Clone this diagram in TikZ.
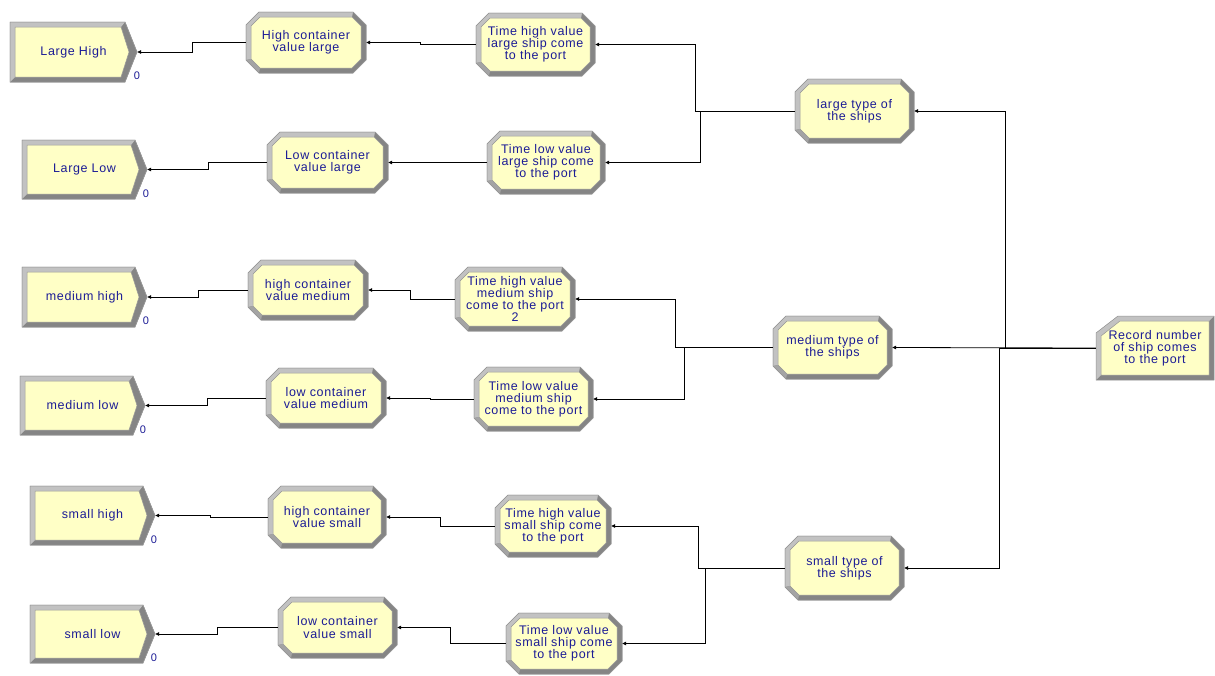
\documentclass[tikz,border=0pt]{standalone}
\usepackage{fontspec}
\setmainfont{Liberation Sans}
\newfontfamily\modfont{Liberation Sans}[LetterSpace=5]
\usetikzlibrary{arrows.meta}
\definecolor{bevlight}{HTML}{C2C2C2}
\definecolor{bevdark}{HTML}{858585}
\definecolor{bevmid}{HTML}{A4A4A4}
\definecolor{bevline}{HTML}{969696}
\definecolor{modfill}{HTML}{FFFFC6}
\definecolor{modtext}{HTML}{1C1C96}
\tikzset{
  modlabel/.style={draw=none, inner sep=0pt, align=center, text=modtext,
    font=\modfont\fontsize{12.5}{12.2}\selectfont},
  conn/.style={draw=black, line width=0.8pt, {Triangle[length=4pt,width=3.6pt]}-},
  cnt/.style={text=modtext, font=\modfont\fontsize{11}{11}\selectfont, inner sep=0pt},
  outl/.style={draw=bevline, line width=0.5pt},
}
% octagonal (Assign) module: name, x1, y1, x2, y2, text
\newcommand\octmod[6]{%
  \def\mxa{#2}\def\mya{#3}\def\mxb{#4}\def\myb{#5}%
  \fill[bevdark, outl] (\mxa+13,\mya) -- (\mxb-13,\mya) -- (\mxb,\mya+13) -- (\mxb,\myb-13) -- (\mxb-13,\myb) -- (\mxa+13,\myb) -- (\mxa,\myb-13) -- (\mxa,\mya+13) -- cycle;
  \fill[bevlight] (\mxa,\myb-13) -- (\mxa,\mya+13) -- (\mxa+13,\mya) -- (\mxb-13,\mya) -- (\mxb-14,\mya+5) -- (\mxa+14,\mya+5) -- (\mxa+5,\mya+14) -- (\mxa+5,\myb-14) -- cycle;
  \fill[bevmid] (\mxa,\myb-13) -- (\mxa+13,\myb) -- (\mxa+14,\myb-5) -- (\mxa+5,\myb-14) -- cycle;
  \draw[outl] (\mxa+13,\mya) -- (\mxb-13,\mya) -- (\mxb,\mya+13) -- (\mxb,\myb-13) -- (\mxb-13,\myb) -- (\mxa+13,\myb) -- (\mxa,\myb-13) -- (\mxa,\mya+13) -- cycle;
  \filldraw[fill=modfill, outl] (\mxa+14,\mya+5) -- (\mxb-14,\mya+5) -- (\mxb-5,\mya+14) -- (\mxb-5,\myb-14) -- (\mxb-14,\myb-5) -- (\mxa+14,\myb-5) -- (\mxa+5,\myb-14) -- (\mxa+5,\mya+14) -- cycle;
  \node[modlabel, minimum width={(#4-#2)*1pt}, minimum height={(#5-#3)*1pt}] (#1) at ({(#2+#4)/2},{(#3+#5)/2}) {#6};
}
% Create module: name, x1, y1, x2 (tip), y2, text
\newcommand\crmod[6]{%
  \def\mxa{#2}\def\mya{#3}\def\mxb{#4}\def\myb{#5}%
  \filldraw[fill=bevdark, outl] (\mxa,\mya) -- (\mxb-12,\mya) -- (\mxb,{(\mya+\myb)/2}) -- (\mxb-12,\myb) -- (\mxa,\myb) -- cycle;
  \fill[bevlight] (\mxa,\myb) -- (\mxa,\mya) -- (\mxb-12,\mya) -- (\mxb-16,\mya+5) -- (\mxa+5,\mya+5) -- (\mxa+5,\myb-5) -- cycle;
  \draw[outl] (\mxa,\mya) -- (\mxb-12,\mya) -- (\mxb,{(\mya+\myb)/2}) -- (\mxb-12,\myb) -- (\mxa,\myb) -- cycle;
  \filldraw[fill=modfill, outl] (\mxa+5,\mya+5) -- (\mxb-16,\mya+5) -- (\mxb-8,{(\mya+\myb)/2}) -- (\mxb-16,\myb-5) -- (\mxa+5,\myb-5) -- cycle;
  \node[modlabel, minimum width={(#4-#2)*1pt}, minimum height={(#5-#3)*1pt}] (#1) at ({(#2+#4)/2},{(#3+#5)/2}) {#6};
}
% Record module: name, x1, y1, x2, y2, text
\newcommand\recmod[6]{%
  \def\mxa{#2}\def\mya{#3}\def\mxb{#4}\def\myb{#5}%
  \fill[bevdark] (\mxa,\mya+17) -- (\mxa+22,\mya) -- (\mxb,\mya) -- (\mxb,\myb) -- (\mxa,\myb) -- cycle;
  \fill[bevlight] (\mxa,\myb) -- (\mxa,\mya+17) -- (\mxa+22,\mya) -- (\mxb,\mya) -- (\mxb-5,\mya+5) -- (\mxa+24,\mya+5) -- (\mxa+5,\mya+20) -- (\mxa+5,\myb-5) -- cycle;
  \draw[outl] (\mxa,\mya+17) -- (\mxa+22,\mya) -- (\mxb,\mya) -- (\mxb,\myb) -- (\mxa,\myb) -- cycle;
  \filldraw[fill=modfill, outl] (\mxa+5,\mya+20) -- (\mxa+24,\mya+5) -- (\mxb-5,\mya+5) -- (\mxb-5,\myb-5) -- (\mxa+5,\myb-5) -- cycle;
  \node[modlabel, minimum width={(#4-#2)*1pt}, minimum height={(#5-#3)*1pt}] (#1) at ({(#2+#4)/2},{(#3+#5)/2}) {#6};
}
\begin{document}
\begin{tikzpicture}[x=1pt, y=-1pt]
\useasboundingbox[fill=white] (0,0) rectangle (1215,675);

% Create modules
\crmod{CA}{10}{22}{137}{82}{Large High}
\crmod{CB}{22}{140}{147}{199}{Large Low}
\crmod{CC}{22}{267}{147}{327}{medium high}
\crmod{CD}{20}{376}{145}{435}{medium low}
\crmod{CE}{30}{486}{155}{545}{small high}
\crmod{CF}{30}{605}{155}{663}{small low}

\node[cnt] (nA) at (137,76) {0};
\node[cnt] (nB) at (146,194) {0};
\node[cnt] (nC) at (146,321) {0};
\node[cnt] (nD) at (143,430) {0};
\node[cnt] (nE) at (154,540) {0};
\node[cnt] (nF) at (154,658) {0};

% Assign modules (containers)
\octmod{A1}{246}{12}{366}{73}{High container\\value large}
\octmod{A2}{267}{132}{388}{193}{Low container\\value large}
\octmod{A3}{248}{260}{368}{320}{high container\\value medium}
\octmod{A4}{266}{368}{386}{428}{low container\\value medium}
\octmod{A5}{268}{486}{386}{548}{high container\\value small}
\octmod{A6}{278}{597}{397}{658}{low container\\value small}

% Assign modules (times)
\octmod{T1}{476}{13}{595}{76}{Time high value\\large ship come\\to the port}
\octmod{T2}{487}{131}{605}{194}{Time low value\\large ship come\\to the port}
\octmod{T3}{455}{267}{575}{331}{Time high value\\medium ship\\come to the port\\2}
\octmod{T4}{474}{367}{593}{431}{Time low value\\medium ship\\come to the port}
\octmod{T5}{495}{495}{611}{557}{Time high value\\small ship come\\to the port}
\octmod{T6}{506}{613}{622}{674}{Time low value\\small ship come\\to the port}

% Assign modules (types)
\octmod{L}{795}{79}{914}{143}{large type of\\the ships}
\octmod{M}{773}{316}{892}{379}{medium type of\\the ships}
\octmod{S}{785}{536}{904}{600}{small type of\\the ships}

% Record
\recmod{Rec}{1096}{316}{1214}{380}{Record number\\of ship comes\\to the port}

% Connectors
\draw[conn] (CA.east) -- ++(55,0) |- (A1.west);
\draw[conn] (A1.east) -- ++(54,0) |- (T1.west);
\draw[conn] (T1.east) -- ++(100,0) |- (L.west);
\draw[conn] (T2.east) -- ++(95,0) |- (L.west);
\draw[conn] (L.east) -- ++(91,0) |- (Rec.west);

\draw[conn] (CB.east) -- ++(61,0) |- (A2.west);
\draw[conn] (A2.east) -- ++(42,0) |- (T2.west);

\draw[conn] (CC.east) -- ++(51,0) |- (A3.west);
\draw[conn] (A3.east) -- ++(42,0) |- (T3.west);
\draw[conn] (T3.east) -- ++(100,0) |- (M.west);
\draw[conn] (T4.east) -- ++(91,0) |- (M.west);
\draw[conn] (M.east) -- (Rec.west);

\draw[conn] (CD.east) -- ++(62,0) |- (A4.west);
\draw[conn] (A4.east) -- ++(44,0) |- (T4.west);

\draw[conn] (CE.east) -- ++(55,0) |- (A5.west);
\draw[conn] (A5.east) -- ++(54,0) |- (T5.west);
\draw[conn] (T5.east) -- ++(87,0) |- (S.west);
\draw[conn] (T6.east) -- ++(83,0) |- (S.west);
\draw[conn] (S.east) -- ++(95,0) |- (Rec.west);

\draw[conn] (CF.east) -- ++(62,0) |- (A6.west);
\draw[conn] (A6.east) -- ++(53,0) |- (T6.west);
\end{tikzpicture}
\end{document}
